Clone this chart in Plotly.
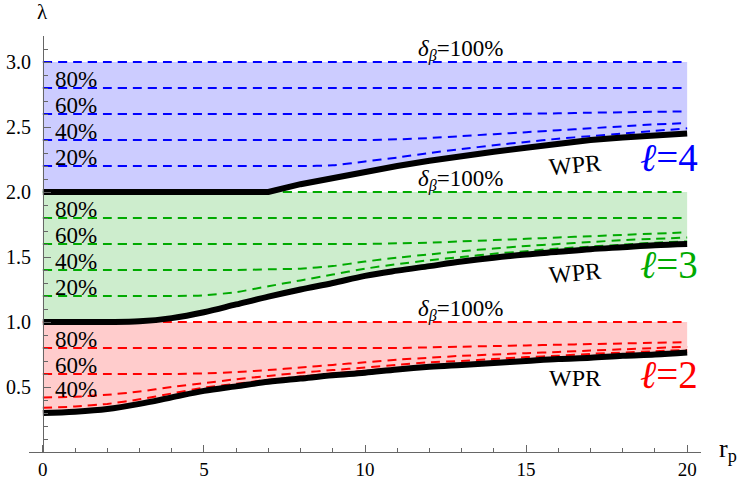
import plotly.graph_objects as go

# probe radius grid
r_p = [0, 1, 2, 3, 4, 5, 6, 7, 8, 9, 10, 11, 12, 13, 14, 15, 16, 17, 18, 19, 20]

# WPR boundaries for each l
wpr_l2 = [0.30, 0.31, 0.33, 0.37, 0.42, 0.47, 0.505, 0.54, 0.565, 0.59, 0.61,
          0.635, 0.655, 0.67, 0.685, 0.70, 0.715, 0.725, 0.74, 0.75, 0.765]
wpr_l3 = [1.0, 1.0, 1.0, 1.005, 1.03, 1.075, 1.135, 1.195, 1.25, 1.30, 1.355,
          1.395, 1.43, 1.465, 1.495, 1.52, 1.54, 1.56, 1.575, 1.59, 1.60]
wpr_l4 = [2.0, 2.0, 2.0, 2.0, 2.0, 2.0, 2.0, 2.0, 2.06, 2.11, 2.16,
          2.20, 2.24, 2.28, 2.31, 2.34, 2.375, 2.40, 2.42, 2.435, 2.45]

# delta_beta contours, l = 2
l2_d100 = [1.0, 1.0, 1.0, 1.0, 1.0, 1.0, 1.0, 1.0, 1.0, 1.0, 1.0,
           1.0, 1.0, 1.0, 1.0, 1.0, 1.0, 1.0, 1.0, 1.0, 1.0]
l2_d80 = [0.80, 0.80, 0.80, 0.80, 0.80, 0.80, 0.80, 0.80, 0.80, 0.80, 0.80,
          0.80, 0.805, 0.81, 0.815, 0.82, 0.825, 0.83, 0.835, 0.84, 0.845]
l2_d60 = [0.60, 0.60, 0.60, 0.60, 0.60, 0.605, 0.615, 0.63, 0.65, 0.67, 0.69,
          0.71, 0.725, 0.74, 0.75, 0.76, 0.77, 0.78, 0.79, 0.80, 0.81]
l2_d40 = [0.42, 0.425, 0.44, 0.465, 0.50, 0.53, 0.56, 0.585, 0.61, 0.63, 0.65,
          0.67, 0.69, 0.70, 0.715, 0.73, 0.74, 0.755, 0.765, 0.775, 0.785]
l2_d20 = [0.34, 0.35, 0.37, 0.405, 0.45, 0.495, 0.525, 0.555, 0.58, 0.605, 0.625,
          0.645, 0.665, 0.68, 0.695, 0.71, 0.72, 0.735, 0.745, 0.76, 0.77]

# delta_beta contours, l = 3
l3_d100 = [2.0, 2.0, 2.0, 2.0, 2.0, 2.0, 2.0, 2.0, 2.0, 2.0, 2.0,
           2.0, 2.0, 2.0, 2.0, 2.0, 2.0, 2.0, 2.0, 2.0, 2.0]
l3_d80 = [1.8, 1.8, 1.8, 1.8, 1.8, 1.8, 1.8, 1.8, 1.8, 1.8, 1.8,
          1.8, 1.8, 1.8, 1.8, 1.8, 1.8, 1.8, 1.8, 1.8, 1.8]
l3_d60 = [1.6, 1.6, 1.6, 1.6, 1.6, 1.6, 1.6, 1.6, 1.6, 1.6, 1.6,
          1.605, 1.61, 1.62, 1.63, 1.64, 1.65, 1.66, 1.67, 1.68, 1.69]
l3_d40 = [1.4, 1.4, 1.4, 1.4, 1.4, 1.4, 1.4, 1.405, 1.41, 1.43, 1.465,
          1.495, 1.52, 1.545, 1.565, 1.585, 1.60, 1.615, 1.63, 1.64, 1.65]
l3_d20 = [1.2, 1.2, 1.2, 1.2, 1.2, 1.205, 1.23, 1.275, 1.32, 1.365, 1.41,
          1.445, 1.475, 1.50, 1.525, 1.545, 1.565, 1.58, 1.595, 1.61, 1.62]

# delta_beta contours, l = 4
l4_d100 = [3.0, 3.0, 3.0, 3.0, 3.0, 3.0, 3.0, 3.0, 3.0, 3.0, 3.0,
           3.0, 3.0, 3.0, 3.0, 3.0, 3.0, 3.0, 3.0, 3.0, 3.0]
l4_d80 = [2.8, 2.8, 2.8, 2.8, 2.8, 2.8, 2.8, 2.8, 2.8, 2.8, 2.8,
          2.8, 2.8, 2.8, 2.8, 2.8, 2.8, 2.8, 2.8, 2.8, 2.8]
l4_d60 = [2.6, 2.6, 2.6, 2.6, 2.6, 2.6, 2.6, 2.6, 2.6, 2.6, 2.6,
          2.6, 2.6, 2.6, 2.6, 2.602, 2.605, 2.61, 2.613, 2.617, 2.62]
l4_d40 = [2.4, 2.4, 2.4, 2.4, 2.4, 2.4, 2.4, 2.4, 2.4, 2.4, 2.4,
          2.405, 2.415, 2.43, 2.445, 2.46, 2.475, 2.49, 2.505, 2.52, 2.53]
l4_d20 = [2.2, 2.2, 2.2, 2.2, 2.2, 2.2, 2.2, 2.2, 2.2, 2.205, 2.235,
          2.265, 2.30, 2.33, 2.36, 2.385, 2.41, 2.43, 2.45, 2.47, 2.49]

pct_labels = ["20%", "40%", "60%", "80%"]

SERIF = "Liberation Serif, Times New Roman, DejaVu Serif, serif"
BLUE = "rgb(0,0,255)"
GREEN = "rgb(0,170,0)"
RED = "rgb(255,0,0)"

groups = [
    dict(l=2, color=RED, fill="rgb(255,204,204)", wpr=wpr_l2, kink=False,
         lines=[l2_d20, l2_d40, l2_d60, l2_d80, l2_d100], labelled=[1, 2, 3]),
    dict(l=3, color=GREEN, fill="rgb(205,237,205)", wpr=wpr_l3, kink=False,
         lines=[l3_d20, l3_d40, l3_d60, l3_d80, l3_d100], labelled=[0, 1, 2, 3]),
    dict(l=4, color=BLUE, fill="rgb(204,204,255)", wpr=wpr_l4, kink=True,
         lines=[l4_d20, l4_d40, l4_d60, l4_d80, l4_d100], labelled=[0, 1, 2, 3]),
]

fig = go.Figure()

# shaded bands between the WPR boundary and the 100% contour
for g in groups:
    top = g["lines"][-1]
    fig.add_trace(go.Scatter(
        x=r_p + r_p[::-1], y=top + g["wpr"][::-1],
        fill="toself", fillcolor=g["fill"], mode="lines",
        line=dict(width=0), hoverinfo="skip"))

# dashed delta_beta contours
for g in groups:
    for ys in g["lines"]:
        fig.add_trace(go.Scatter(
            x=r_p, y=ys, mode="lines",
            line=dict(color=g["color"], width=2, dash="9px,6px",
                      shape="spline", smoothing=0.6),
            hoverinfo="skip"))

# thick WPR boundaries (the l=4 one has a sharp onset, so keep it piecewise)
for g in groups:
    fig.add_trace(go.Scatter(
        x=r_p, y=g["wpr"], mode="lines",
        line=dict(color="black", width=6,
                  shape="linear" if g["kink"] else "spline"),
        hoverinfo="skip"))

annotations = []
label_font = dict(family=SERIF, size=23, color="black")
for g in groups:
    for i in g["labelled"]:
        annotations.append(dict(
            x=0.3, y=g["lines"][i][0] + 0.062, xref="x", yref="y",
            text=pct_labels[i], showarrow=False, xanchor="left", yanchor="middle",
            font=label_font))
    annotations.append(dict(
        x=12.95, y=g["lines"][-1][-1] + 0.09, xref="x", yref="y",
        text="<i>δ</i><sub><i>β</i></sub>=100%", showarrow=False,
        xanchor="center", yanchor="middle",
        font=dict(family=SERIF, size=23, color="black")))

wpr_pos = {2: (16.52, 0.573, 0), 3: (16.52, 1.38, -5), 4: (16.52, 2.21, -5)}
ell_pos = {2: (19.44, 0.60), 3: (19.44, 1.44), 4: (19.44, 2.265)}
for g in groups:
    wx, wy, ang = wpr_pos[g["l"]]
    annotations.append(dict(
        x=wx, y=wy, xref="x", yref="y", text="WPR", showarrow=False,
        xanchor="center", yanchor="middle", textangle=ang,
        font=dict(family=SERIF, size=24, color="black")))
    ex, ey = ell_pos[g["l"]]
    annotations.append(dict(
        x=ex, y=ey, xref="x", yref="y", text="<i>ℓ</i>=%d" % g["l"],
        showarrow=False, xanchor="center", yanchor="middle",
        font=dict(family=SERIF, size=39, color=g["color"])))

# axis titles
annotations.append(dict(
    x=0.0201, y=1.0577, xref="paper", yref="paper", text="λ", showarrow=False,
    xanchor="center", yanchor="middle", font=dict(family=SERIF, size=21, color="black")))
annotations.append(dict(
    x=1.0238, y=0.005, xref="paper", yref="paper", text="r<sub>p</sub>",
    showarrow=False, xanchor="left", yanchor="middle",
    font=dict(family=SERIF, size=26, color="black")))

AXIS = "#666666"
fig.update_layout(
    width=740, height=481,
    margin=dict(l=29, r=39, t=36, b=29, autoexpand=False),
    plot_bgcolor="white", paper_bgcolor="white",
    showlegend=False,
    annotations=annotations,
    xaxis=dict(
        range=[-0.43, 20.43], showgrid=False, zeroline=False, automargin=False,
        showline=True, linecolor=AXIS, linewidth=1,
        tickmode="linear", tick0=0, dtick=5,
        ticks="inside", ticklen=7, tickcolor=AXIS,
        ticklabelstandoff=0,
        minor=dict(tickmode="linear", tick0=0, dtick=1, ticks="inside",
                   ticklen=4, tickcolor=AXIS, showgrid=False),
        tickfont=dict(family=SERIF, size=19, color="black"),
    ),
    yaxis=dict(
        range=[0, 3.2], showgrid=False, zeroline=False, automargin=False,
        anchor="free", position=14 / 672,
        showline=True, linecolor=AXIS, linewidth=1,
        tickmode="array", tickvals=[0.5, 1.0, 1.5, 2.0, 2.5, 3.0],
        ticktext=["0.5", "1.0", "1.5", "2.0", "2.5", "3.0"],
        ticks="inside", ticklen=7, tickcolor=AXIS,
        ticklabelstandoff=8,
        minor=dict(tickmode="linear", tick0=0, dtick=0.1, ticks="inside",
                   ticklen=4, tickcolor=AXIS, showgrid=False),
        tickfont=dict(family=SERIF, size=20, color="black"),
    ),
)

fig.write_html("out.html")
